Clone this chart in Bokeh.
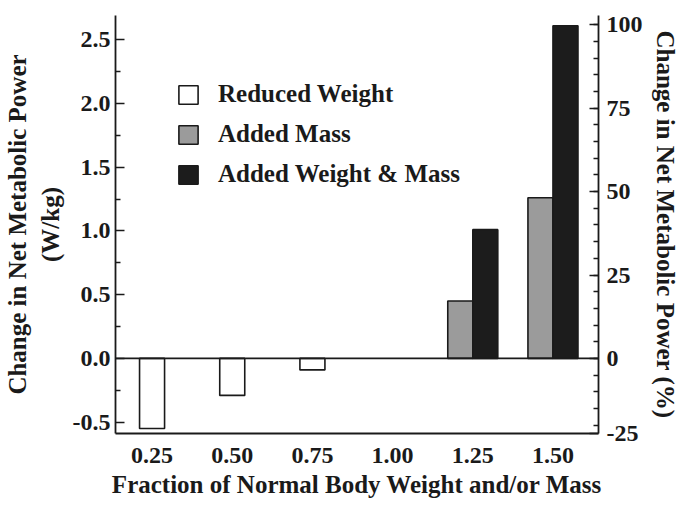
from bokeh.plotting import figure
from bokeh.models import (Range1d, LinearAxis, FixedTicker, PrintfTickFormatter,
                          Span, Legend, LegendItem, ColumnDataSource)
from bokeh.transform import dodge
from bokeh.embed import file_html
from bokeh.resources import INLINE

# ---- data ----
reduced_x = [0.25, 0.50, 0.75]
reduced_weight = [-0.55, -0.29, -0.09]
added_x = [1.25, 1.50]
added_mass = [0.45, 1.26]
added_weight_mass = [1.01, 2.61]

x_ticks = [0.25, 0.50, 0.75, 1.00, 1.25, 1.50]
y_ticks = [-0.5, 0.0, 0.5, 1.0, 1.5, 2.0, 2.5]
pct_ticks = [0, 25, 50, 75, 100]

FONT = "Liberation Serif"
INK = "#1a1a1a"
BW = 0.078
K = 100 / 2.617  # % per W/kg (right axis scaling)

y0, y1 = -0.589, 2.69
p = figure(width=681, height=506, output_backend="svg", toolbar_location=None,
           x_range=Range1d(0.136, 1.642), y_range=Range1d(y0, y1),
           min_border_left=115, min_border_right=78, min_border_top=15,
           min_border_bottom=73, background_fill_color="white",
           border_fill_color="white", outline_line_color=None)
p.grid.visible = False

src_r = ColumnDataSource(dict(x=reduced_x, v=reduced_weight))
src_a = ColumnDataSource(dict(x=added_x, m=added_mass, wm=added_weight_mass))

r1 = p.vbar(x="x", top="v", bottom=0, width=BW, source=src_r,
            fill_color="white", line_color=INK, line_width=1.6)
r2 = p.vbar(x=dodge("x", -BW / 2), top="m", bottom=0, width=BW, source=src_a,
            fill_color="#9b9b9b", line_color=INK, line_width=1.6)
r3 = p.vbar(x=dodge("x", BW / 2), top="wm", bottom=0, width=BW, source=src_a,
            fill_color="#1c1c1c", line_color=INK, line_width=1.6)

p.add_layout(Span(location=0, dimension="width", line_color=INK, line_width=1.8))

# left axis
ya = p.yaxis[0]
ya.ticker = FixedTicker(ticks=y_ticks, minor_ticks=[-0.25, 0.25, 0.75, 1.25, 1.75, 2.25])
ya.formatter = PrintfTickFormatter(format="%.1f")
ya.axis_label = "Change in Net Metabolic Power\n(W/kg)"

# bottom axis
xa = p.xaxis[0]
xa.ticker = FixedTicker(ticks=x_ticks)
xa.formatter = PrintfTickFormatter(format="%.2f")
xa.axis_label = "Fraction of Normal Body Weight and/or Mass"
xa.major_tick_line_color = None
xa.minor_tick_line_color = None

# right axis
p.extra_y_ranges = {"pct": Range1d(y0 * K, y1 * K)}
bottom_pct = y0 * K
ra = LinearAxis(y_range_name="pct",
                ticker=FixedTicker(ticks=[bottom_pct] + pct_ticks,
                                   minor_ticks=list(range(-20, 101, 5))),
                formatter=PrintfTickFormatter(format="%d"),
                axis_label="Change in Net Metabolic Power (%)")
ra.major_label_overrides = {bottom_pct: "-25"}
p.add_layout(ra, "right")

for ax in (ya, xa, ra):
    ax.axis_line_color = INK
    ax.axis_line_width = 1.8
    ax.major_label_text_font = FONT
    ax.major_label_text_font_style = "bold"
    ax.major_label_text_font_size = "24px"
    ax.major_label_text_color = INK
    ax.axis_label_text_font = FONT
    ax.axis_label_text_font_style = "bold"
    ax.axis_label_text_font_size = "25px"
    ax.axis_label_text_color = INK
for ax in (ya, ra):
    ax.major_tick_in = 9
    ax.major_tick_out = 0
    ax.minor_tick_in = 5
    ax.minor_tick_out = 0
    ax.major_tick_line_color = INK
    ax.minor_tick_line_color = INK
    ax.major_tick_line_width = 1.6
    ax.minor_tick_line_width = 1.4
ya.major_label_standoff = 5
ra.major_label_standoff = 8
xa.major_label_standoff = 8
ya.axis_label_standoff = 6
ra.axis_label_standoff = 6

legend = Legend(items=[LegendItem(label="Reduced Weight", renderers=[r1]),
                       LegendItem(label="Added Mass", renderers=[r2]),
                       LegendItem(label="Added Weight & Mass", renderers=[r3])],
                location=(61, 244), glyph_width=24, glyph_height=23,
                label_height=30, spacing=10, padding=0, margin=0,
                label_standoff=18, border_line_alpha=0, background_fill_alpha=0,
                label_text_font=FONT, label_text_font_style="bold",
                label_text_font_size="25px", label_text_color=INK)
p.add_layout(legend)

open("out.html", "w").write(file_html(p, INLINE))
